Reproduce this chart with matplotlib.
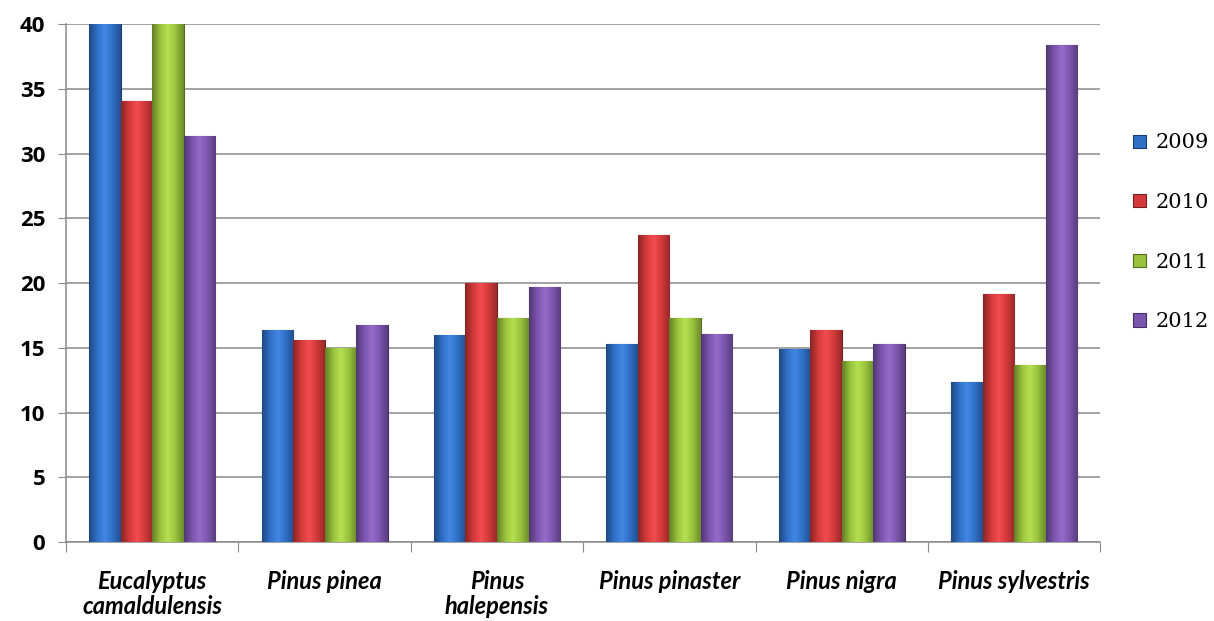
import matplotlib
matplotlib.use("Agg")
import matplotlib.pyplot as plt
import numpy as np
from matplotlib.colors import LinearSegmentedColormap, to_rgb

categories = ["Eucalyptus\ncamaldulensis", "Pinus pinea", "Pinus\nhalepensis",
              "Pinus pinaster", "Pinus nigra", "Pinus sylvestris"]
years = ["2009", "2010", "2011", "2012"]
v2009 = [44.0, 16.4, 16.0, 15.3, 14.9, 12.4]
v2010 = [34.1, 15.6, 20.0, 23.7, 16.4, 19.2]
v2011 = [42.0, 15.0, 17.3, 17.3, 14.0, 13.7]
v2012 = [31.4, 16.8, 19.7, 16.1, 15.3, 38.4]
series = [v2009, v2010, v2011, v2012]
colors = ["#2F6FC6", "#D3393A", "#98C23C", "#7C55AE"]
yticks = [0, 5, 10, 15, 20, 25, 30, 35, 40]
ymax = 40

fig = plt.figure(figsize=(12.14, 6.21), dpi=100)
ax = fig.add_axes([0.0544, 0.127, 0.852, 0.834])

n = len(categories)
x = np.arange(n)
width = 0.183
offsets = (np.arange(4) - 1.5) * width

def shade(c):
    r = np.array(to_rgb(c))
    dark = r * 0.65
    light = np.clip(r * 1.08 + 0.06, 0, 1)
    return LinearSegmentedColormap.from_list("g", [dark, r, light, r, r * 0.72])

ax.set_xlim(-0.5, n - 0.5)
ax.set_ylim(0, ymax)

for i, (vals, col) in enumerate(zip(series, colors)):
    bars = ax.bar(x + offsets[i], vals, width, color=col, label=years[i],
                  edgecolor=np.array(to_rgb(col)) * 0.55, linewidth=0.8, zorder=3)
    cmap = shade(col)
    grad = np.linspace(0, 1, 64).reshape(1, -1)
    for b in bars:
        x0, w, h = b.get_x(), b.get_width(), min(b.get_height(), ymax)
        im = ax.imshow(grad, extent=[x0, x0 + w, 0, h], cmap=cmap, aspect="auto",
                       zorder=3.5, interpolation="bicubic")
        im.set_clip_path(b)

ax.set_xlim(-0.5, n - 0.5)
ax.set_ylim(0, ymax)
ax.set_yticks(yticks)
ax.set_yticklabels([str(t) for t in yticks], fontsize=16, fontweight="bold",
                   family=["Open Sans", "DejaVu Sans"])
ax.yaxis.grid(True, color="#8a8a8a", linewidth=1.1, zorder=0)
ax.set_axisbelow(True)

ax.set_xticks(np.arange(-0.5, n, 1.0))
ax.set_xticklabels([])
ax.set_xticks(x, minor=True)
ax.set_xticklabels(categories, minor=True, fontsize=17, fontweight="bold",
                   fontstyle="italic", family=["Lato", "DejaVu Sans"],
                   linespacing=1.12)
ax.tick_params(axis="x", which="minor", length=0, pad=20)
ax.tick_params(axis="x", which="major", length=7, color="#8a8a8a", direction="out")
ax.tick_params(axis="y", length=6, color="#8a8a8a", pad=9)

for s in ["top", "right"]:
    ax.spines[s].set_visible(False)
for s in ["left", "bottom"]:
    ax.spines[s].set_color("#8a8a8a")
    ax.spines[s].set_linewidth(1.1)

leg = ax.legend(loc="center left", bbox_to_anchor=(1.032, 0.598), frameon=False,
                prop={"family": ["DejaVu Serif"], "size": 15},
                borderaxespad=0, borderpad=0,
                handlelength=0.6, handleheight=0.6, handletextpad=0.45, labelspacing=1.95)

fig.savefig("out.png", dpi=100)
